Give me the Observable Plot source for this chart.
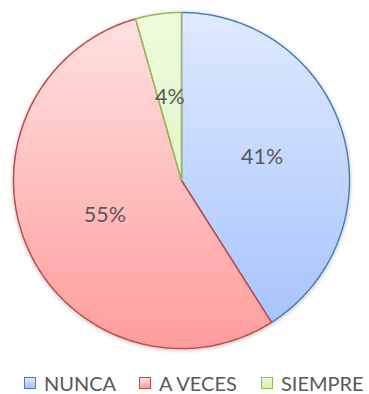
<!DOCTYPE html>
<html>
<head>
<meta charset="utf-8">
<script src="https://cdn.jsdelivr.net/npm/d3@7"></script>
<script src="https://cdn.jsdelivr.net/npm/@observablehq/plot@0.6"></script>
<style>
  body { margin: 0; background: #fff; width: 369px; height: 394px; overflow: hidden; }
  #chart svg { display: block; }
  .legend { position: absolute; top: 371px; left: 0; width: 369px; height: 24px;
            font-family: Lato, "Open Sans", sans-serif; font-size: 20px; color: #595959; white-space: nowrap; }
  .legend span { position: absolute; top: 0; display: inline-flex; align-items: center; gap: 8px; line-height: 24px; }
  .legend i { display: inline-block; width: 10px; height: 10px; border: 1px solid; }
</style>
</head>
<body>
<div id="chart"></div>
<div class="legend" id="legend"></div>
<script>
const categories = ["NUNCA", "A VECES", "SIEMPRE"];
const values = [41, 54.6, 4.4];
const labels = ["41%", "55%", "4%"];
const legendX = [24, 139, 261];
const strokeColors = ["#4a7ebb", "#be4b48", "#98b954"];
const gradTop = ["#e0eaff", "#ffe2e2", "#eefcdc"];
const gradBottom = ["#a3c1fb", "#ff9d9d", "#d2f0b0"];

const W = 369, H = 362, R = 168, cx = 181, cy = 180;

const pie = d3.pie().sort(null).value(d => d)(values);
const poly = [];
const labelPts = [];
pie.forEach((a, i) => {
  poly.push({cat: categories[i], x: 0, y: 0});
  const n = Math.max(8, Math.ceil((a.endAngle - a.startAngle) * 60));
  for (let k = 0; k <= n; k++) {
    const t = a.startAngle + (a.endAngle - a.startAngle) * k / n;
    poly.push({cat: categories[i], x: Math.sin(t), y: Math.cos(t)});
  }
  poly.push({cat: categories[i], x: 0, y: 0});
  const m = (a.startAngle + a.endAngle) / 2;
  labelPts.push({label: labels[i], x: 0.5 * Math.sin(m), y: 0.5 * Math.cos(m)});
});

const fillMap = Object.fromEntries(categories.map((c, i) => [c, `url(#g${i})`]));
const strokeMap = Object.fromEntries(categories.map((c, i) => [c, strokeColors[i]]));

const defs = () => {
  const ns = "http://www.w3.org/2000/svg";
  const g = document.createElementNS(ns, "defs");
  categories.forEach((c, i) => {
    const lg = document.createElementNS(ns, "linearGradient");
    lg.setAttribute("id", "g" + i);
    lg.setAttribute("gradientUnits", "userSpaceOnUse");
    lg.setAttribute("x1", 0); lg.setAttribute("x2", 0);
    lg.setAttribute("y1", cy - R); lg.setAttribute("y2", cy + R);
    [[0, gradTop[i]], [1, gradBottom[i]]].forEach(([o, col]) => {
      const s = document.createElementNS(ns, "stop");
      s.setAttribute("offset", o); s.setAttribute("stop-color", col);
      lg.appendChild(s);
    });
    g.appendChild(lg);
  });
  const f = document.createElementNS(ns, "filter");
  f.setAttribute("id", "sh"); f.setAttribute("x", "-10%"); f.setAttribute("y", "-10%");
  f.setAttribute("width", "120%"); f.setAttribute("height", "120%");
  f.innerHTML = '<feDropShadow dx="0" dy="1" stdDeviation="2" flood-color="#000" flood-opacity="0.25"/>';
  g.appendChild(f);
  return g;
};

const chart = Plot.plot({
  width: W, height: H,
  margin: 0,
  x: {domain: [-cx / R, (W - cx) / R], axis: null},
  y: {domain: [-(H - cy) / R, cy / R], axis: null},
  marks: [
    defs,
    Plot.line(poly, {x: "x", y: "y", z: "cat", fill: d => fillMap[d.cat], stroke: d => strokeMap[d.cat],
      strokeWidth: 1.5, curve: "linear", strokeLinejoin: "miter"}),
    Plot.text(labelPts, {x: "x", y: "y", text: "label", fill: "#595959", fontSize: 21.5,
      fontFamily: "Lato, 'Open Sans', sans-serif"})
  ]
});
chart.querySelectorAll("g[aria-label='line']").forEach(g => g.setAttribute("filter", "url(#sh)"));
document.getElementById("chart").appendChild(chart);

const lg = document.getElementById("legend");
categories.forEach((c, i) => {
  const s = document.createElement("span");
  s.style.left = legendX[i] + "px";
  const sw = document.createElement("i");
  sw.style.borderColor = strokeColors[i];
  sw.style.background = `linear-gradient(${gradTop[i]}, ${gradBottom[i]})`;
  s.appendChild(sw);
  s.appendChild(document.createTextNode(c));
  lg.appendChild(s);
});
</script>
</body>
</html>
